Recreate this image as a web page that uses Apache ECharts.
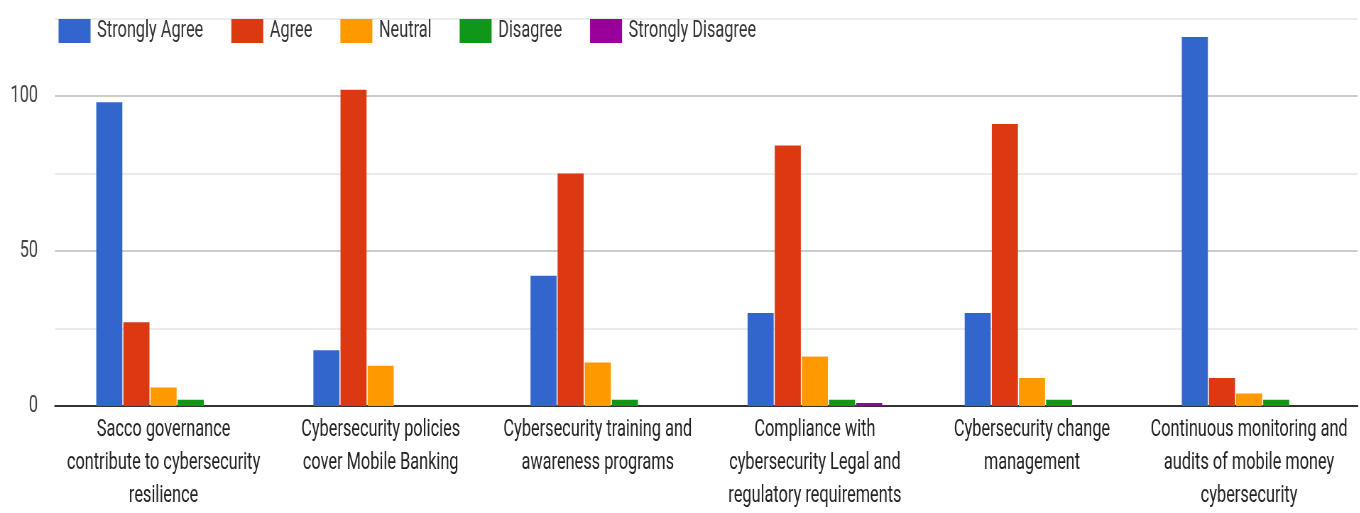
<!DOCTYPE html>
<html>
<head>
<meta charset="utf-8">
<script src="https://cdn.jsdelivr.net/npm/echarts@6/dist/echarts.min.js"></script>
<style>
  html, body { margin: 0; padding: 0; background: #fff; overflow: hidden; }
  #wrap { width: 1360px; height: 513px; overflow: hidden; }
  #chart { height: 513px; transform-origin: 0 0; }
</style>
</head>
<body>
<div id="wrap"><div id="chart"></div></div>
<script>
// Survey statements (wrapped the way they appear under each group)
const categories = [
  'Sacco governance\ncontribute to cybersecurity\nresilience',
  'Cybersecurity policies\ncover Mobile Banking',
  'Cybersecurity training and\nawareness programs',
  'Compliance with\ncybersecurity Legal and\nregulatory requirements',
  'Cybersecurity change\nmanagement',
  'Continuous monitoring and\naudits of mobile money\ncybersecurity'
];

// Response counts per statement
const stronglyAgree    = [98, 18, 42, 30, 30, 119];
const agree            = [27, 102, 75, 84, 91, 9];
const neutral          = [6, 13, 14, 16, 9, 4];
const disagree         = [2, 0, 2, 2, 2, 2];
const stronglyDisagree = [0, 0, 0, 1, 0, 0];

const seriesNames = ['Strongly Agree', 'Agree', 'Neutral', 'Disagree', 'Strongly Disagree'];
const seriesValues = [stronglyAgree, agree, neutral, disagree, stronglyDisagree];
const palette = ['#3366cc', '#dc3912', '#ff9900', '#109618', '#990099'];

// Y axis ticks every 25, labels only on the 50s
const yMin = 0, yMax = 125, yStep = 25;
const yLabelEvery = 50;

// The chart is laid out wide and squeezed horizontally, giving condensed lettering
const SX = 0.71;
const el = document.getElementById('chart');
el.style.width = (1360 / SX) + 'px';
el.style.transform = 'scaleX(' + SX + ')';
const px = v => v / SX;   // horizontal screen pixels -> layout pixels

const FONT = 'Roboto, "Liberation Sans", sans-serif';

const chart = echarts.init(el);
chart.setOption({
  animation: false,
  color: palette,
  textStyle: { fontFamily: FONT },
  legend: {
    left: px(55),
    top: 14,
    itemWidth: px(32),
    itemHeight: 24,
    itemGap: px(28),
    icon: 'rect',
    textStyle: { fontFamily: FONT, fontSize: 23, color: '#333', padding: [0, 0, 0, px(3)] },
    data: seriesNames
  },
  grid: { left: px(55), right: px(2), top: 18.5, bottom: 99, containLabel: false },
  xAxis: {
    type: 'category',
    data: categories,
    axisTick: { show: false },
    axisLine: { lineStyle: { color: '#333', width: 2 } },
    axisLabel: {
      interval: 0,
      margin: 8,
      fontFamily: FONT,
      fontSize: 23,
      lineHeight: 33,
      color: '#222',
      align: 'center'
    }
  },
  yAxis: {
    type: 'value',
    min: yMin,
    max: yMax,
    interval: yStep,
    axisLine: { show: false },
    axisTick: { show: false },
    axisLabel: {
      margin: px(17),
      fontFamily: FONT,
      fontSize: 23,
      color: '#444',
      formatter: v => (v % yLabelEvery === 0 ? String(v) : '')
    },
    splitLine: {
      lineStyle: { color: ['#cccccc', '#ebebeb'], width: 2 }
    }
  },
  series: seriesNames.map((name, i) => ({
    name,
    type: 'bar',
    data: seriesValues[i],
    barGap: '4%',
    barCategoryGap: '38%',
    itemStyle: { color: palette[i] }
  }))
});
</script>
</body>
</html>
